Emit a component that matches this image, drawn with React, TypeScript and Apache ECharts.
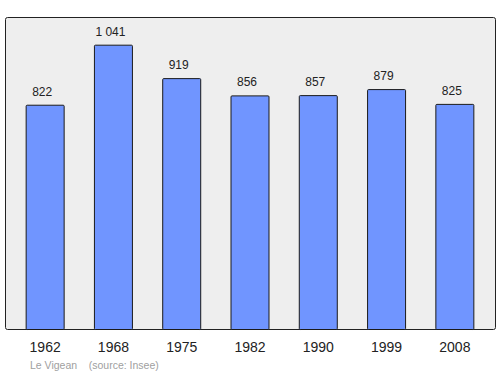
import React, { useEffect, useRef } from "react";
import * as echarts from "echarts";

const categories = ["1962", "1968", "1975", "1982", "1990", "1999", "2008"];
const values = [822, 1041, 919, 856, 857, 879, 825];
const valueLabels = ["822", "1 041", "919", "856", "857", "879", "825"];
const footer = "Le Vigean    (source: Insee)";

export default function App() {
  const ref = useRef<HTMLDivElement>(null);
  useEffect(() => {
    if (!ref.current) return;
    const chart = echarts.init(ref.current, null, { renderer: "svg" });
    chart.setOption({
      animation: false,
      graphic: [
        {
          type: "rect",
          shape: { x: 5.5, y: 17.5, width: 490, height: 312, r: 2 },
          style: { fill: "#eeeeee", stroke: "#222", lineWidth: 1 },
          z: -10,
        },
        {
          type: "text",
          x: 30,
          y: 359,
          style: {
            text: footer,
            fill: "#a0a0a0",
            font: "10.5px 'Liberation Sans', Arial, sans-serif",
          },
        },
      ],
      grid: { left: 11, right: 11, top: 17, bottom: 44 },
      xAxis: {
        type: "category",
        data: categories,
        axisLine: { show: false },
        axisTick: { show: false },
        axisLabel: {
          color: "#222",
          fontSize: 14,
          fontFamily: "'Liberation Sans', Arial, sans-serif",
          margin: 10,
        },
      },
      yAxis: {
        type: "value",
        min: 0,
        max: 1142,
        show: false,
        splitLine: { show: false },
      },
      series: [
        {
          type: "bar",
          data: values,
          barWidth: 39,
          itemStyle: { color: "#7095ff", borderColor: "#1a1a1a", borderWidth: 1, borderRadius: 1 },
          label: {
            show: true,
            position: "top",
            distance: 7,
            offset: [-3, 0],
            color: "#222",
            fontSize: 12,
            fontFamily: "'Liberation Sans', Arial, sans-serif",
            formatter: (p: any) => valueLabels[p.dataIndex],
          },
        },
      ],
    });
    return () => chart.dispose();
  }, []);
  return (
    <div
      ref={ref}
      style={{ position: "fixed", left: 0, top: 0, width: 500, height: 374, background: "#fff" }}
    />
  );
}
